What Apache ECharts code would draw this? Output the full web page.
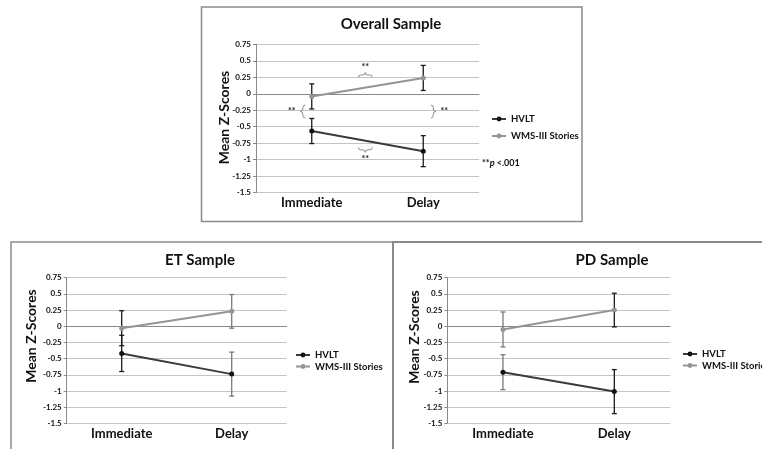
<!DOCTYPE html>
<html><head><meta charset="utf-8">
<script src="https://cdn.jsdelivr.net/npm/echarts@6/dist/echarts.min.js"></script>
<style>html,body{margin:0;padding:0;background:#fff}#c{width:762px;height:449px}</style>
</head><body><div id="c"></div>
<script>
// ---- data ----
const categories = ['Immediate', 'Delay'];
const yTicks = {min: -1.5, max: 0.75, step: 0.25};
const seriesNames = ['HVLT', 'WMS-III Stories'];
const panelTitles = ['Overall Sample', 'ET Sample', 'PD Sample'];

const overallHVLT = [-0.565, -0.87];
const overallHVLTErr = [0.19, 0.235];
const overallWMS = [-0.04, 0.24];
const overallWMSErr = [0.19, 0.19];

const etHVLT = [-0.42, -0.74];
const etHVLTErr = [0.28, 0.34];
const etWMS = [-0.03, 0.23];
const etWMSErr = [0.27, 0.26];

const pdHVLT = [-0.71, -1.01];
const pdHVLTErr = [0.27, 0.34];
const pdWMS = [-0.05, 0.25];
const pdWMSErr = [0.27, 0.26];

// significance braces on overall panel: [category position, value, direction]
const overallBraces = [[0.48, 0.285, 'up'], [0.48, -0.85, 'down'], [-0.08, -0.27, 'left'], [1.09, -0.27, 'right']];
const sigLabel = '**';
const pNote = ['**', 'p', ' <.001'];

// ---- styles ----
const FONT = 'Lato, "Open Sans", sans-serif';
const C_HVLT = '#3a3a3a', C_HVLT_M = '#111', C_WMS = '#959595';
const ERR_BLACK = '#1a1a1a', ERR_GRAY = '#7a7a7a';

const panels = [
  {grid: {left: 256, top: 44.3, width: 223, height: 148.4}, hv: overallHVLT, hvE: overallHVLTErr, wm: overallWMS, wmE: overallWMSErr, errC: [ERR_BLACK, ERR_BLACK]},
  {grid: {left: 66.7, top: 277.7, width: 220, height: 145.6}, hv: etHVLT, hvE: etHVLTErr, wm: etWMS, wmE: etWMSErr, errC: [ERR_BLACK, ERR_GRAY]},
  {grid: {left: 447.3, top: 277.7, width: 222.7, height: 145.6}, hv: pdHVLT, hvE: pdHVLTErr, wm: pdWMS, wmE: pdWMSErr, errC: [ERR_GRAY, ERR_BLACK]}
];

const grids = [], xAxes = [], yAxes = [], series = [];
panels.forEach((p, i) => {
  grids.push(Object.assign({containLabel: false}, p.grid));
  xAxes.push({
    type: 'category', gridIndex: i, data: categories, boundaryGap: true,
    axisLine: {lineStyle: {color: '#8a8a8a', width: 1}},
    axisTick: {show: false},
    axisLabel: {fontFamily: FONT, fontWeight: 'bold', fontSize: 13, color: '#111', margin: 4}
  });
  yAxes.push({
    type: 'value', gridIndex: i, min: yTicks.min, max: yTicks.max, interval: yTicks.step,
    axisLine: {show: true, lineStyle: {color: '#8a8a8a', width: 1}},
    axisTick: {show: true, length: 3, lineStyle: {color: '#8a8a8a'}},
    splitLine: {lineStyle: {color: '#c4c4c4', width: 1}},
    axisLabel: {fontFamily: FONT, fontWeight: 'bold', fontSize: 8, color: '#111', margin: 5}
  });
  const errData = [];
  categories.forEach((c, j) => {
    errData.push([j, p.hv[j], p.hvE[j]]);
    errData.push([j, p.wm[j], p.wmE[j]]);
  });
  series.push({
    type: 'custom', xAxisIndex: i, yAxisIndex: i, data: errData, z: 1, silent: true,
    renderItem: (params, api) => {
      const x = api.value(0), m = api.value(1), e = api.value(2);
      const top = api.coord([x, m + e]), bot = api.coord([x, m - e]);
      const col = p.errC[x];
      const st = {stroke: col, lineWidth: 1.3};
      const w = 2.5;
      return {type: 'group', children: [
        {type: 'line', shape: {x1: top[0], y1: top[1], x2: bot[0], y2: bot[1]}, style: st},
        {type: 'line', shape: {x1: top[0] - w, y1: top[1], x2: top[0] + w, y2: top[1]}, style: st},
        {type: 'line', shape: {x1: bot[0] - w, y1: bot[1], x2: bot[0] + w, y2: bot[1]}, style: st}
      ]};
    }
  });
  series.push({
    name: seriesNames[0], type: 'line', xAxisIndex: i, yAxisIndex: i, data: p.hv, z: 3,
    symbol: 'circle', symbolSize: 5, showSymbol: true,
    lineStyle: {color: C_HVLT, width: 2}, itemStyle: {color: C_HVLT_M}
  });
  series.push({
    name: seriesNames[1], type: 'line', xAxisIndex: i, yAxisIndex: i, data: p.wm, z: 3,
    symbol: 'circle', symbolSize: 5, showSymbol: true,
    lineStyle: {color: C_WMS, width: 2}, itemStyle: {color: C_WMS}
  });
});

function hBrace(cx, cy, half, h, d) {
  const e = cy - d * h / 2, t = cy + d * h / 2, r = h / 2;
  return `M${cx - half},${e} Q${cx - half},${cy} ${cx - half + r},${cy} L${cx - r},${cy} Q${cx},${cy} ${cx},${t} Q${cx},${cy} ${cx + r},${cy} L${cx + half - r},${cy} Q${cx + half},${cy} ${cx + half},${e}`;
}
function vBrace(cx, cy, half, h, d) {
  const e = cx - d * h / 2, t = cx + d * h / 2, r = h / 2;
  return `M${e},${cy - half} Q${cx},${cy - half} ${cx},${cy - half + r} L${cx},${cy - r} Q${cx},${cy} ${t},${cy} Q${cx},${cy} ${cx},${cy + r} L${cx},${cy + half - r} Q${cx},${cy + half} ${e},${cy + half}`;
}

series.push({
  type: 'custom', xAxisIndex: 0, yAxisIndex: 0, data: overallBraces.map(b => [b[0], b[1]]), z: 4, silent: true,
  renderItem: (params, api) => {
    const b = overallBraces[params.dataIndex];
    const y = api.coord([0, b[1]])[1];
    const p0 = api.coord([0, b[1]])[0], p1 = api.coord([1, b[1]])[0];
    const x = p0 + b[0] * (p1 - p0);
    const st = {stroke: '#8a8a8a', lineWidth: 1, fill: null};
    const ts = {text: sigLabel, font: 'bold 9px ' + FONT, fill: '#222', align: 'center', verticalAlign: 'middle'};
    let path, tx, ty;
    if (b[2] === 'up') { path = hBrace(x, y, 7, 5, -1); tx = x; ty = y - 8; }
    else if (b[2] === 'down') { path = hBrace(x, y, 7, 5, 1); tx = x; ty = y + 9; }
    else if (b[2] === 'left') { path = vBrace(x, y, 6.5, 5, -1); tx = x - 11; ty = y; }
    else { path = vBrace(x, y, 6.5, 5, 1); tx = x + 11; ty = y; }
    return {type: 'group', children: [
      {type: 'path', shape: {pathData: path}, style: st},
      {type: 'text', style: Object.assign({x: tx, y: ty}, ts)}
    ]};
  }
});

const legendBase = {
  orient: 'vertical', data: seriesNames, itemWidth: 14, itemHeight: 6, selectedMode: false,
  textStyle: {fontFamily: FONT, fontWeight: 'bold', fontSize: 9.5, color: '#111'}
};
const legends = [
  Object.assign({}, legendBase, {left: 486, top: 109, itemGap: 7}),
  Object.assign({}, legendBase, {left: 290, top: 345, itemGap: 1.5}),
  Object.assign({}, legendBase, {left: 677, top: 344, itemGap: 1.5})
];

const frameStyle = {stroke: '#8a8a8a', lineWidth: 1.5, fill: null};
const TITLE_FONT = 'bold 15px ' + FONT;
const graphic = [
  {type: 'rect', shape: {x: 201.5, y: 7, width: 380.5, height: 214.5}, style: frameStyle, silent: true},
  {type: 'rect', shape: {x: 11, y: 242, width: 382, height: 260}, style: frameStyle, silent: true},
  {type: 'rect', shape: {x: 393, y: 242, width: 420, height: 260}, style: Object.assign({}, frameStyle, {lineWidth: 2}), silent: true},
  {type: 'text', x: 391, y: 24, style: {text: panelTitles[0], font: TITLE_FONT, fill: '#111', align: 'center', verticalAlign: 'middle'}},
  {type: 'text', x: 200, y: 260, style: {text: panelTitles[1], font: TITLE_FONT, fill: '#111', align: 'center', verticalAlign: 'middle'}},
  {type: 'text', x: 612, y: 260, style: {text: panelTitles[2], font: TITLE_FONT, fill: '#111', align: 'center', verticalAlign: 'middle'}},
  {type: 'text', x: 224, y: 117.5, rotation: Math.PI / 2, style: {text: 'Mean Z-Scores', font: 'bold 14px ' + FONT, fill: '#111', align: 'center', verticalAlign: 'middle'}},
  {type: 'text', x: 31.5, y: 336, rotation: Math.PI / 2, style: {text: 'Mean Z-Scores', font: 'bold 14px ' + FONT, fill: '#111', align: 'center', verticalAlign: 'middle'}},
  {type: 'text', x: 414, y: 337, rotation: Math.PI / 2, style: {text: 'Mean Z-Scores', font: 'bold 14px ' + FONT, fill: '#111', align: 'center', verticalAlign: 'middle'}},
  {type: 'text', x: 482, y: 163, style: {
    text: '{a|' + pNote[0] + '}{p|' + pNote[1] + '}{a|' + pNote[2] + '}',
    rich: {a: {font: 'bold 9px ' + FONT, fill: '#111'}, p: {font: 'italic bold 9px ' + FONT, fill: '#111'}},
    verticalAlign: 'middle'
  }}
];

const chart = echarts.init(document.getElementById('c'), null, {renderer: 'canvas'});
chart.setOption({
  backgroundColor: '#fff', animation: false,
  grid: grids, xAxis: xAxes, yAxis: yAxes, series: series, legend: legends, graphic: graphic
});
</script></body></html>
